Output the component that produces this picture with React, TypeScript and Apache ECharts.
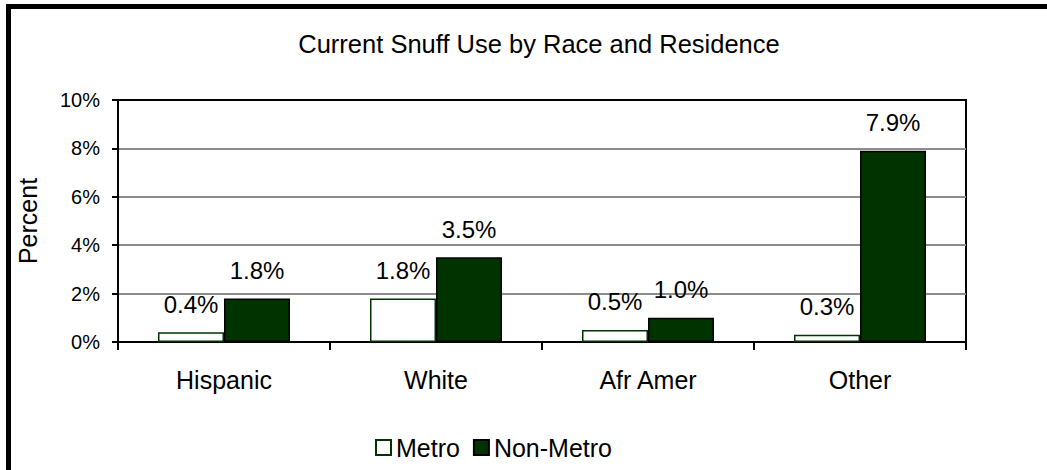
import React, { useEffect, useRef } from "react";
import * as echarts from "echarts";

const categories = ["Hispanic", "White", "Afr Amer", "Other"];
const metro = [0.4, 1.8, 0.5, 0.3];
const nonMetro = [1.8, 3.5, 1.0, 7.9];
const yTicks = { min: 0, max: 10, interval: 2 };

const FONT = "Liberation Sans, Arial, sans-serif";
const GREEN = "#003300";

export default function App() {
  const ref = useRef<HTMLDivElement>(null);
  useEffect(() => {
    if (!ref.current) return;
    const chart = echarts.init(ref.current, undefined, { renderer: "svg" });
    const label = {
      show: true,
      position: "top" as const,
      distance: 16,
      fontSize: 24,
      fontFamily: FONT,
      color: "#000",
      formatter: (p: any) => Number(p.value).toFixed(1) + "%",
    };
    chart.setOption({
      animation: false,
      backgroundColor: "#fff",
      textStyle: { fontFamily: FONT, color: "#000" },
      title: {
        text: "Current Snuff Use by Race and Residence",
        left: 534,
        textAlign: "center",
        top: 26,
        textStyle: { fontSize: 25.5, fontWeight: "normal", color: "#000", fontFamily: FONT },
      },
      legend: {
        left: 370,
        top: 430,
        itemWidth: 15,
        itemHeight: 15,
        itemGap: 13,
        icon: "rect",
        textStyle: { fontSize: 25, color: "#000", fontFamily: FONT },
        data: ["Metro", "Non-Metro"],
      },
      grid: {
        left: 118,
        top: 100,
        right: 81,
        bottom: 128,
        show: true,
        borderColor: "#000",
        borderWidth: 2,
        backgroundColor: "transparent",
      },
      xAxis: {
        type: "category",
        data: categories,
        axisLine: { lineStyle: { color: "#000", width: 2 } },
        axisTick: { show: true, length: 8, lineStyle: { color: "#000", width: 2 } },
        axisLabel: { fontSize: 25, color: "#000", margin: 25, fontFamily: FONT },
      },
      yAxis: {
        type: "value",
        min: yTicks.min,
        max: yTicks.max,
        interval: yTicks.interval,
        name: "Percent",
        nameLocation: "middle",
        nameGap: 78,
        nameTextStyle: { fontSize: 25, color: "#000", fontFamily: FONT },
        axisLine: { show: true, lineStyle: { color: "#000", width: 2 } },
        axisTick: { show: true, length: 6, lineStyle: { color: "#000", width: 2 } },
        axisLabel: {
          fontSize: 20,
          color: "#000",
          margin: 18,
          fontFamily: FONT,
          formatter: (v: number) => v + "%",
        },
        splitLine: {
          show: true,
          lineStyle: { color: ["#000", "#8c8c8c", "#8c8c8c", "#8c8c8c", "#8c8c8c", "#000"], width: 2 },
        },
      },
      series: [
        {
          name: "Metro",
          type: "bar",
          data: metro,
          barWidth: 66,
          barGap: "0%",
          itemStyle: { color: "#fff", borderColor: GREEN, borderWidth: 1.5 },
          label,
        },
        {
          name: "Non-Metro",
          type: "bar",
          data: nonMetro,
          barWidth: 66,
          itemStyle: { color: GREEN, borderColor: "#000", borderWidth: 1.5 },
          label,
        },
      ],
      graphic: [
        {
          type: "rect",
          silent: true,
          shape: { x: 8.5, y: 6.5, width: 1100, height: 600 },
          style: { fill: "none", stroke: "#000", lineWidth: 5 },
        },
      ],
    });
    return () => chart.dispose();
  }, []);
  return (
    <div
      ref={ref}
      style={{ position: "fixed", left: 0, top: 0, width: 1047, height: 470 }}
    />
  );
}
